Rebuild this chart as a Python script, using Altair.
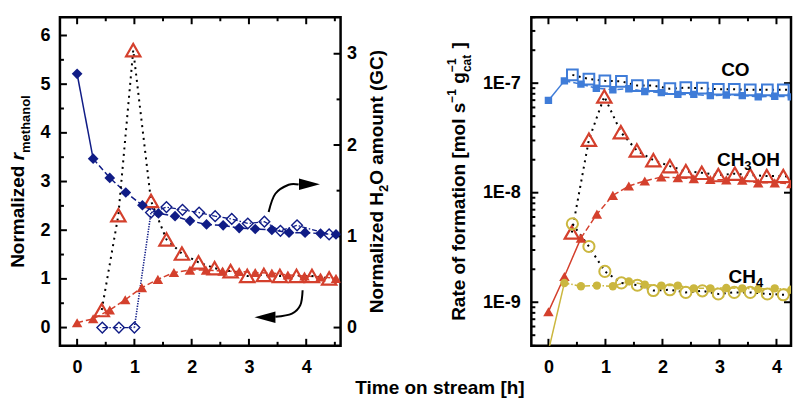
import altair as alt
import pandas as pd

# ---------------- left panel data ----------------
# normalized H2O amount (right axis), filled / open diamonds
h2o_t = [0.00, 0.28, 0.57, 0.85, 1.14, 1.42, 1.71, 1.97, 2.26, 2.55, 2.83, 3.11, 3.40, 3.70, 3.98, 4.25, 4.52]
h2o_v = [2.78, 1.85, 1.64, 1.48, 1.34, 1.25, 1.22, 1.17, 1.13, 1.12, 1.09, 1.08, 1.07, 1.04, 1.04, 1.03, 1.02]
h2o_open_t = [0.44, 0.73, 1.00, 1.29, 1.56, 1.84, 2.13, 2.41, 2.70, 2.98, 3.27, 3.55, 3.84, 4.40]
h2o_open_v = [0.00, 0.00, 0.00, 1.26, 1.32, 1.29, 1.26, 1.22, 1.19, 1.14, 1.16, 1.06, 1.12, 1.02]
# normalized r_methanol (left axis), filled / open triangles
meoh_t = [0.00, 0.28, 0.57, 0.84, 1.13, 1.41, 1.69, 1.97, 2.25, 2.54, 2.83, 3.11, 3.40, 3.68, 3.97, 4.25, 4.52]
meoh_v = [0.10, 0.18, 0.36, 0.57, 0.82, 0.99, 1.13, 1.18, 1.18, 1.16, 1.15, 1.13, 1.12, 1.08, 1.06, 1.04, 1.01]
meoh_open_t = [0.43, 0.72, 0.98, 1.29, 1.56, 1.83, 2.12, 2.40, 2.68, 2.97, 3.26, 3.54, 3.83, 4.10, 4.40]
meoh_open_v = [0.36, 2.31, 5.70, 2.60, 1.81, 1.52, 1.34, 1.22, 1.16, 1.06, 1.08, 1.06, 1.06, 1.06, 1.01]
# curved annotation arrows (left-axis units)
arrow_up_t = [3.344, 3.461, 3.693, 3.868]
arrow_up_v = [2.374, 2.749, 2.934, 2.938]
arrow_dn_t = [3.937, 3.897, 3.751, 3.461]
arrow_dn_v = [0.767, 0.460, 0.287, 0.220]
head_t = [4.057, 3.280]
head_v = [2.946, 0.212]
head_angle = [0, 180]

# ---------------- right panel data ----------------
co_t = [0.00, 0.28, 0.57, 0.84, 1.13, 1.41, 1.69, 1.98, 2.27, 2.55, 2.84, 3.12, 3.40, 3.68, 3.97, 4.26]
co_v = [6.96e-8, 1.05e-7, 9.8e-8, 9.0e-8, 8.7e-8, 8.9e-8, 8.4e-8, 8.2e-8, 7.9e-8, 7.9e-8, 7.7e-8, 7.8e-8, 7.7e-8, 7.5e-8, 7.6e-8, 7.5e-8]
co_open_t = [0.42, 0.71, 0.99, 1.28, 1.56, 1.84, 2.13, 2.41, 2.70, 2.98, 3.26, 3.54, 3.84, 4.12, 4.39]
co_open_v = [1.19e-7, 1.09e-7, 1.05e-7, 1.04e-7, 9.5e-8, 9.5e-8, 8.9e-8, 9.1e-8, 9.0e-8, 8.8e-8, 8.8e-8, 8.7e-8, 8.7e-8, 8.7e-8, 8.7e-8]
ch3oh_t = [0.00, 0.28, 0.57, 0.85, 1.13, 1.41, 1.69, 1.98, 2.27, 2.55, 2.84, 3.12, 3.40, 3.68, 3.97, 4.26]
ch3oh_v = [8.2e-10, 1.72e-9, 3.85e-9, 6.37e-9, 9.46e-9, 1.15e-8, 1.28e-8, 1.39e-8, 1.37e-8, 1.34e-8, 1.32e-8, 1.31e-8, 1.30e-8, 1.23e-8, 1.23e-8, 1.21e-8]
ch3oh_open_t = [0.41, 0.71, 0.98, 1.27, 1.55, 1.84, 2.13, 2.41, 2.69, 2.98, 3.27, 3.54, 3.83, 4.12, 4.40]
ch3oh_open_v = [4.33e-9, 3.05e-8, 7.57e-8, 3.57e-8, 2.43e-8, 1.98e-8, 1.75e-8, 1.57e-8, 1.52e-8, 1.45e-8, 1.49e-8, 1.45e-8, 1.42e-8, 1.42e-8, 1.37e-8]
ch4_t = [0.00, 0.28, 0.57, 0.85, 1.13, 1.41, 1.69, 1.98, 2.27, 2.55, 2.84, 3.12, 3.40, 3.68, 3.97, 4.26]
ch4_v = [3.6e-10, 1.50e-9, 1.40e-9, 1.42e-9, 1.40e-9, 1.55e-9, 1.45e-9, 1.42e-9, 1.42e-9, 1.34e-9, 1.34e-9, 1.35e-9, 1.34e-9, 1.32e-9, 1.34e-9, 1.30e-9]
ch4_open_t = [0.42, 0.71, 0.99, 1.28, 1.56, 1.84, 2.13, 2.41, 2.70, 2.98, 3.26, 3.54, 3.84, 4.12, 4.39]
ch4_open_v = [5.2e-9, 3.23e-9, 1.91e-9, 1.50e-9, 1.43e-9, 1.28e-9, 1.30e-9, 1.23e-9, 1.27e-9, 1.19e-9, 1.23e-9, 1.23e-9, 1.19e-9, 1.17e-9, 1.17e-9]
# species label anchors (time, rate)
label_co = (3.03, 1.175e-7)
label_ch3oh = (2.956, 1.75e-8)
label_ch4 = (3.16, 1.51e-9)

# tick values
lx_major = [0, 1, 2, 3, 4]
lx_minor = [0.5, 1.5, 2.5, 3.5, 4.5]
rx_minor = [0.5, 1.5, 2.5, 3.5]
yl_major = [0, 1, 2, 3, 4, 5, 6]
yl_minor = [0.5, 1.5, 2.5, 3.5, 4.5, 5.5]
yr_major = [0, 1, 2, 3]
yr_minor = [0.5, 1.5, 2.5]
log_major = [1e-9, 1e-8, 1e-7]
log_minor = [k * 10.0 ** e for e in (-10, -9, -8, -7) for k in range(2, 10) if 4e-10 <= k * 10.0 ** e <= 4e-7]

# ---------------- style ----------------
FONT = "Liberation Sans"
TF = 19
LF = 18
SF = 13
NAVY = "#101c86"
RED = "#d4402d"
BLUE = "#3f7cd8"
YEL = "#cbb73f"
W1, W2, H = 281, 260, 329
GAP = 191

AW = {' ': 278, '(': 333, ')': 333, '[': 333, ']': 333, '-': 333, '\u2212': 584,
      'A': 722, 'C': 722, 'E': 667, 'G': 778, 'H': 722, 'N': 722, 'O': 778, 'R': 722, 'T': 611,
      'a': 556, 'c': 556, 'd': 611, 'e': 556, 'f': 333, 'g': 611, 'h': 611, 'i': 278, 'l': 278,
      'm': 889, 'n': 611, 'o': 611, 'r': 389, 's': 556, 't': 333, 'u': 611, 'z': 500}


def tw(s, fs):
    return sum(AW.get(c, 556) for c in s) / 1000.0 * fs


xs1 = alt.Scale(domain=[-0.3, 4.6], nice=False, zero=False)
xs2 = alt.Scale(domain=[-0.3, 4.255], nice=False, zero=False)
yls = alt.Scale(domain=[-0.375, 6.375], nice=False, zero=False)
yrs = alt.Scale(domain=[-0.2, 3.4], nice=False, zero=False)
ylog = alt.Scale(type="log", domain=[4e-10, 4e-7], nice=False)

ax_x = alt.Axis(title=None, values=lx_major, format="d", labelPadding=13)
ax_yl = alt.Axis(title=None, orient="left", values=yl_major, format="d", labelPadding=10)
ax_yr = alt.Axis(title=None, orient="right", values=yr_major, format="d", labelPadding=6)
ax_log = alt.Axis(title=None, orient="left", values=log_major,
                  labelExpr="'1E' + round(log(datum.value) / LN10)", labelPadding=11)


def X1(f):
    return alt.X(f, type="quantitative", scale=xs1, axis=ax_x)


def X2(f):
    return alt.X(f, type="quantitative", scale=xs2, axis=ax_x)


def YL(f, axis=None):
    return alt.Y(f, type="quantitative", scale=yls, axis=axis)


def YR(f, axis=None):
    return alt.Y(f, type="quantitative", scale=yrs, axis=axis)


def YG(f, axis=ax_log):
    return alt.Y(f, type="quantitative", scale=ylog, axis=axis)


def line(t, v, X, Y, color, dash=None, width=1.5):
    kw = dict(color=color, strokeWidth=width, clip=True)
    if dash:
        kw["strokeDash"] = dash
    return alt.Chart(pd.DataFrame({"t": t, "v": v})).mark_line(**kw).encode(x=X("t"), y=Y("v"))


def points(t, v, X, Y, shape, size, color, filled, sw=1.5):
    df = pd.DataFrame({"t": t, "v": v})
    if filled:
        m = alt.Chart(df).mark_point(shape=shape, size=size, filled=True, color=color, opacity=1, strokeWidth=0, clip=True)
    else:
        m = alt.Chart(df).mark_point(shape=shape, size=size, filled=False, color=color, opacity=1, strokeWidth=sw, clip=True)
    return m.encode(x=X("t"), y=Y)


def xticks(vals, length, X):
    b = alt.Chart(pd.DataFrame({"v": vals})).mark_rule(color="black", strokeWidth=2)
    return [b.encode(x=X("v"), y=alt.value(H), y2=alt.value(H - length)),
            b.encode(x=X("v"), y=alt.value(0), y2=alt.value(length))]


def yticks(vals, length, Yenc, side, W):
    b = alt.Chart(pd.DataFrame({"v": vals})).mark_rule(color="black", strokeWidth=2)
    if side == "left":
        return b.encode(y=Yenc, x=alt.value(0), x2=alt.value(length))
    return b.encode(y=Yenc, x=alt.value(W), x2=alt.value(W - length))


def text(s, x, y, fs, style="normal", angle=0, align="left"):
    return alt.Chart(pd.DataFrame({"s": [s]})).mark_text(
        text=s, font=FONT, fontSize=fs, fontWeight="bold", fontStyle=style, angle=angle,
        align=align, baseline="alphabetic", color="black").encode(x=alt.value(x), y=alt.value(y))


def rotated(pieces, bx, cy):
    total = sum(p[4] for p in pieces)
    y = cy + total / 2.0
    out = []
    for s, fs, st, sh, adv in pieces:
        out.append(text(s, bx + sh, y, fs, st, angle=270))
        y -= adv
    return out


def data_label(pieces, t, v):
    out = []
    dx = 0.0
    df = pd.DataFrame({"t": [t], "v": [v]})
    for s, fs, dy in pieces:
        out.append(alt.Chart(df).mark_text(text=s, font=FONT, fontSize=fs, fontWeight="bold", align="left",
                                           baseline="alphabetic", color="black", dx=dx, dy=dy)
                   .encode(x=X2("t"), y=YG("v")))
        dx += tw(s, fs)
    return out


# ---------------- left panel ----------------
L = []
L += xticks(lx_major, 7, X1) + xticks(lx_minor, 4, X1)
L.append(yticks(yl_major, 7, YL("v"), "left", W1))
L.append(yticks(yl_minor, 4, YL("v"), "left", W1))
L.append(yticks(yr_major, 7, YR("v"), "right", W1))
L.append(yticks(yr_minor, 4, YR("v"), "right", W1))

L.append(line(h2o_t[:2], h2o_v[:2], X1, YR, NAVY))
L.append(line(h2o_t[1:], h2o_v[1:], X1, YR, NAVY, [6, 3]))
L.append(line(h2o_open_t[:3], h2o_open_v[:3], X1, YR, NAVY, [5, 2, 1.5, 2], 1.3))
L.append(line(h2o_open_t[2:4], h2o_open_v[2:4], X1, YR, NAVY, [1.3, 1.3], 1.6))
L.append(line(h2o_open_t[3:], h2o_open_v[3:], X1, YR, NAVY, [5, 2, 1.5, 2], 1.3))
L.append(line(meoh_t, meoh_v, X1, YL, RED, [6, 3]))
L.append(line(meoh_open_t, meoh_open_v, X1, YL, "black", [2, 4.5], 2))

for at, av in ((arrow_up_t, arrow_up_v), (arrow_dn_t, arrow_dn_v)):
    adf = pd.DataFrame({"t": at, "v": av, "i": list(range(len(at)))})
    L.append(alt.Chart(adf).mark_line(color="black", strokeWidth=2, interpolate="cardinal")
             .encode(x=X1("t"), y=YL("v"), order="i:Q"))
for ht, hv, ha in zip(head_t, head_v, head_angle):
    L.append(alt.Chart(pd.DataFrame({"t": [ht], "v": [hv]}))
             .mark_point(shape="M-1,-0.55L1,0L-1,0.55Z", size=440, filled=True, color="black",
                         opacity=1, strokeWidth=0, angle=ha)
             .encode(x=X1("t"), y=YL("v")))

L.append(points(h2o_open_t, h2o_open_v, X1, YR("v"), "diamond", 115, NAVY, False, 1.4))
L.append(points(meoh_open_t, meoh_open_v, X1, YL("v"), "triangle-up", 205, RED, False, 2.2))
L.append(points(h2o_t, h2o_v, X1, YR("v", ax_yr), "diamond", 115, NAVY, True))
L.append(points(meoh_t, meoh_v, X1, YL("v", ax_yl), "triangle-up", 110, RED, True))

L += rotated([("Normalized", TF, "normal", 0, tw("Normalized ", TF)),
              ("r", TF, "italic", 0, tw("r", TF)),
              ("methanol", SF, "normal", 6, tw("methanol", SF))], -35.5, H / 2.0)
L += rotated([("Normalized H", TF, "normal", 0, tw("Normalized H", TF)),
              ("2", SF, "normal", 5, tw("2", SF)),
              ("O amount (GC)", TF, "normal", 0, tw("O amount (GC)", TF))], W1 + 42, H / 2.0)
L.append(text("Time on stream [h]", 380.5, 377, TF, align="center"))

left = alt.layer(*L).resolve_scale(y="independent").properties(width=W1, height=H)

# ---------------- right panel ----------------
R = []
R += xticks(lx_major, 7, X2) + xticks(rx_minor, 4, X2)
R.append(yticks(log_major, 7, YG("v"), "left", W2))
R.append(yticks(log_minor, 4, YG("v"), "left", W2))
R.append(yticks(log_major, 7, YG("v"), "right", W2))

R.append(line(co_t[:2], co_v[:2], X2, YG, BLUE))
R.append(line(co_t[1:], co_v[1:], X2, YG, BLUE, [6, 3]))
R.append(line(co_open_t, co_open_v, X2, YG, "black", [2, 4.5], 2))
R.append(line(ch3oh_t[:3], ch3oh_v[:3], X2, YG, RED))
R.append(line(ch3oh_t[2:], ch3oh_v[2:], X2, YG, RED, [6, 3]))
R.append(line(ch3oh_open_t, ch3oh_open_v, X2, YG, "black", [2, 4.5], 2))
R.append(line(ch4_t[:2], ch4_v[:2], X2, YG, YEL))
R.append(line(ch4_t[1:], ch4_v[1:], X2, YG, YEL, [5, 2, 1.5, 2]))
R.append(line(ch4_open_t, ch4_open_v, X2, YG, "black", [2, 4.5], 2))

R.append(points(co_open_t, co_open_v, X2, YG("v"), "square", 115, BLUE, False, 2))
R.append(points(ch3oh_open_t, ch3oh_open_v, X2, YG("v"), "triangle-up", 205, RED, False, 2.2))
R.append(points(ch4_open_t, ch4_open_v, X2, YG("v"), "circle", 125, YEL, False, 2))
R.append(points(co_t, co_v, X2, YG("v"), "square", 55, BLUE, True))
R.append(points(ch3oh_t, ch3oh_v, X2, YG("v"), "triangle-up", 110, RED, True))
R.append(points(ch4_t, ch4_v, X2, YG("v"), "circle", 70, YEL, True))

R += data_label([("CO", TF, 0)], *label_co)
R += data_label([("CH", TF, 0), ("3", SF, 4), ("OH", TF, 0)], *label_ch3oh)
R += data_label([("CH", TF, 0), ("4", SF, 4)], *label_ch4)

sup = "\u22121"
R += rotated([("Rate of formation [mol s", TF, "normal", 0, tw("Rate of formation [mol s", TF)),
              (sup, 12, "normal", -9, tw(sup, 12) + tw(" ", TF)),
              ("g", TF, "normal", 0, tw("g", TF)),
              ("cat", 12, "normal", 6, 0),
              (sup, 12, "normal", -9, tw("cat", 12) + 1 + tw(" ", TF)),
              ("]", TF, "normal", 0, tw("]", TF))], -66.7, H / 2.0)

right = alt.layer(*R).properties(width=W2, height=H)

chart = (
    alt.hconcat(left, right, spacing=GAP, bounds="flush")
    .properties(padding={"left": 0, "top": 6, "right": 0, "bottom": 0}, background="white")
    .configure_view(stroke="black", strokeWidth=2.5)
    .configure_axis(labelFont=FONT, labelFontSize=LF, labelFontWeight="bold", labelColor="black",
                    ticks=False, tickSize=0, domain=False, grid=False)
)

chart.save("out.html", embed_options={"renderer": "svg", "actions": False})
